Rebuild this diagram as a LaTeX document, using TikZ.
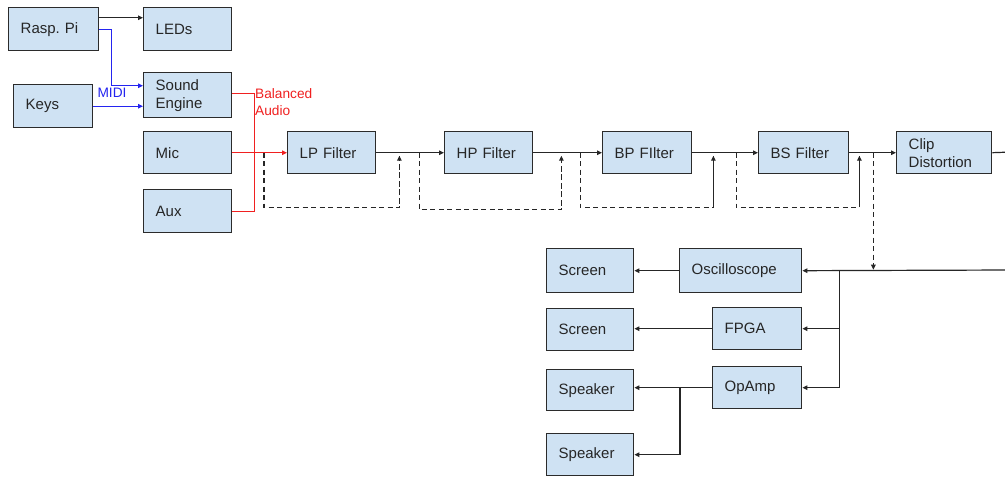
\documentclass[tikz,border=0pt]{standalone}
\usepackage{fontspec}
\setmainfont{Liberation Sans}
\usetikzlibrary{arrows.meta,calc}
\definecolor{boxfill}{HTML}{CFE2F3}
\definecolor{boxline}{HTML}{2B2B2B}
\definecolor{midiblue}{HTML}{2424F0}
\definecolor{audiored}{HTML}{F02020}
\frenchspacing
\begin{document}
\begin{tikzpicture}[x=1pt,y=-1pt,
  box/.style={draw=boxline,fill=boxfill,line width=1.4pt,rectangle,anchor=north west,
    minimum height=43pt,inner xsep=12pt,inner ysep=0pt,align=left,
    font=\fontsize{15}{18}\selectfont,text=black!85},
  conn/.style={line width=1.2pt,draw=black!85},
  arr/.style={conn,-{Triangle[length=5pt,width=4.5pt]}},
  dsh/.style={conn,dashed,dash pattern=on 5pt off 3.5pt},
  darr/.style={arr,dashed,dash pattern=on 5pt off 3.5pt},
  lbl/.style={font=\fontsize{13.7}{17}\selectfont,align=left,inner sep=0pt}]
\clip (0,0) rectangle (1005,478);
\fill[white] (0,0) rectangle (1005,478);
% top-left group
\node[box,minimum width=90pt,text width=66pt] (rpi) at (8,7) {Rasp. Pi};
\node[box,minimum width=88pt,text width=64pt] (leds) at (143,7) {LEDs};
\node[box,minimum width=79pt,text width=55pt] (keys) at (13,84) {Keys};
\node[box,minimum width=88pt,text width=64pt,minimum height=45pt] (se) at (143,72) {Sound\\Engine};
\node[box,minimum width=88pt,text width=64pt,minimum height=42pt] (mic) at (143,131) {Mic};
\node[box,minimum width=88pt,text width=64pt] (aux) at (143,189) {Aux};
% filter chain
\node[box,minimum width=88pt,text width=64pt,minimum height=42pt] (lp) at (287,131) {LP Filter};
\node[box,minimum width=88pt,text width=64pt,minimum height=42pt] (hp) at (444,131) {HP Filter};
\node[box,minimum width=89pt,text width=65pt,minimum height=42pt] (bp) at (602,131) {BP FIlter};
\node[box,minimum width=90pt,text width=66pt,minimum height=42pt] (bs) at (758,131) {BS Filter};
\node[box,minimum width=95pt,text width=71pt,minimum height=42pt] (clip) at (896,131) {Clip\\Distortion};
% outputs
\node[box,minimum width=122pt,text width=98pt,minimum height=44pt] (osc) at (679,248) {Oscilloscope};
\node[box,minimum width=87pt,text width=63pt,minimum height=44pt] (scr1) at (546,248) {Screen};
\node[box,minimum width=89pt,text width=65pt,minimum height=42pt] (fpga) at (712,307) {FPGA};
\node[box,minimum width=87pt,text width=63pt,minimum height=42pt] (scr2) at (546,308) {Screen};
\node[box,minimum width=89pt,text width=65pt,minimum height=42pt] (opamp) at (712,366) {OpAmp};
\node[box,minimum width=87pt,text width=63pt,minimum height=41pt] (spk1) at (546,369) {Speaker};
\node[box,minimum width=87pt,text width=63pt,minimum height=42pt] (spk2) at (546,433) {Speaker};
\coordinate (out1) at (1012,152);
\coordinate (out2) at (1012,270);
% connectors
\draw[arr] ($(rpi.east)+(0,-11.5)$) -- ($(leds.west)+(0,-11.5)$);
\draw[arr,draw=midiblue] (rpi.east) -- ++(12,0) |- ($(se.west)+(0,-9.5)$);
\draw[arr,draw=midiblue] (keys.east) -- (keys.east -| se.west);
\node[lbl,text=midiblue] (midi) at (112,93) {MIDI};
\draw[conn,draw=audiored] ($(se.east)+(0,-1.5)$) -- ++(22,0) |- (aux.east);
\draw[arr,draw=audiored] (mic.east) -- (lp.west);
\node[lbl,text=audiored,anchor=west] (bal) at (255,102) {Balanced\\Audio};
\draw[arr] (lp.east) -- (hp.west);
\draw[arr] (hp.east) -- (bp.west);
\draw[arr] (bp.east) -- (bs.west);
\draw[arr] (bs.east) -- (clip.west);
\draw[conn] (clip.east) -- (out1);
% dashed bypass loops
\draw[dsh] ($(lp.west)+(-23,0)$) -- ++(0,55) -| ($(lp.east)+(23,3)$);
\draw[darr] ($(lp.east)+(23,51)$) -- ($(lp.east)+(23,3)$);
\draw[dsh] ($(lp.east)+(43,0)$) -- ++(0,57) -| ($(hp.east)+(28,3)$);
\draw[darr] ($(hp.east)+(28,53)$) -- ($(hp.east)+(28,3)$);
\draw[dsh] ($(hp.east)+(47,0)$) -- ++(0,55) -| ($(bp.east)+(21,3)$);
\draw[darr] ($(bp.east)+(21,51)$) -- ($(bp.east)+(21,3)$);
\draw[dsh] ($(bp.east)+(44,0)$) -- ++(0,55) -| ($(bs.east)+(10,3)$);
\draw[darr] ($(bs.east)+(10,51)$) -- ($(bs.east)+(10,3)$);
\draw[darr] ($(bs.east)+(24,0)$) -- ($(bs.east)+(24,117)$);
% output distribution
\draw[arr] (out2) -- (osc.east);
\draw[arr] ($(osc.east)+(37,0)$) |- (fpga.east);
\draw[arr] ($(osc.east)+(37,0)$) |- (opamp.east);
\draw[arr] (osc.west) -- (scr1.east);
\draw[arr] (fpga.west) -- (fpga.west -| scr2.east);
\draw[arr] (opamp.west) -- (opamp.west -| spk1.east);
\draw[arr] ($(opamp.west)+(-32,0)$) |- (spk2.east);
\end{tikzpicture}
\end{document}
